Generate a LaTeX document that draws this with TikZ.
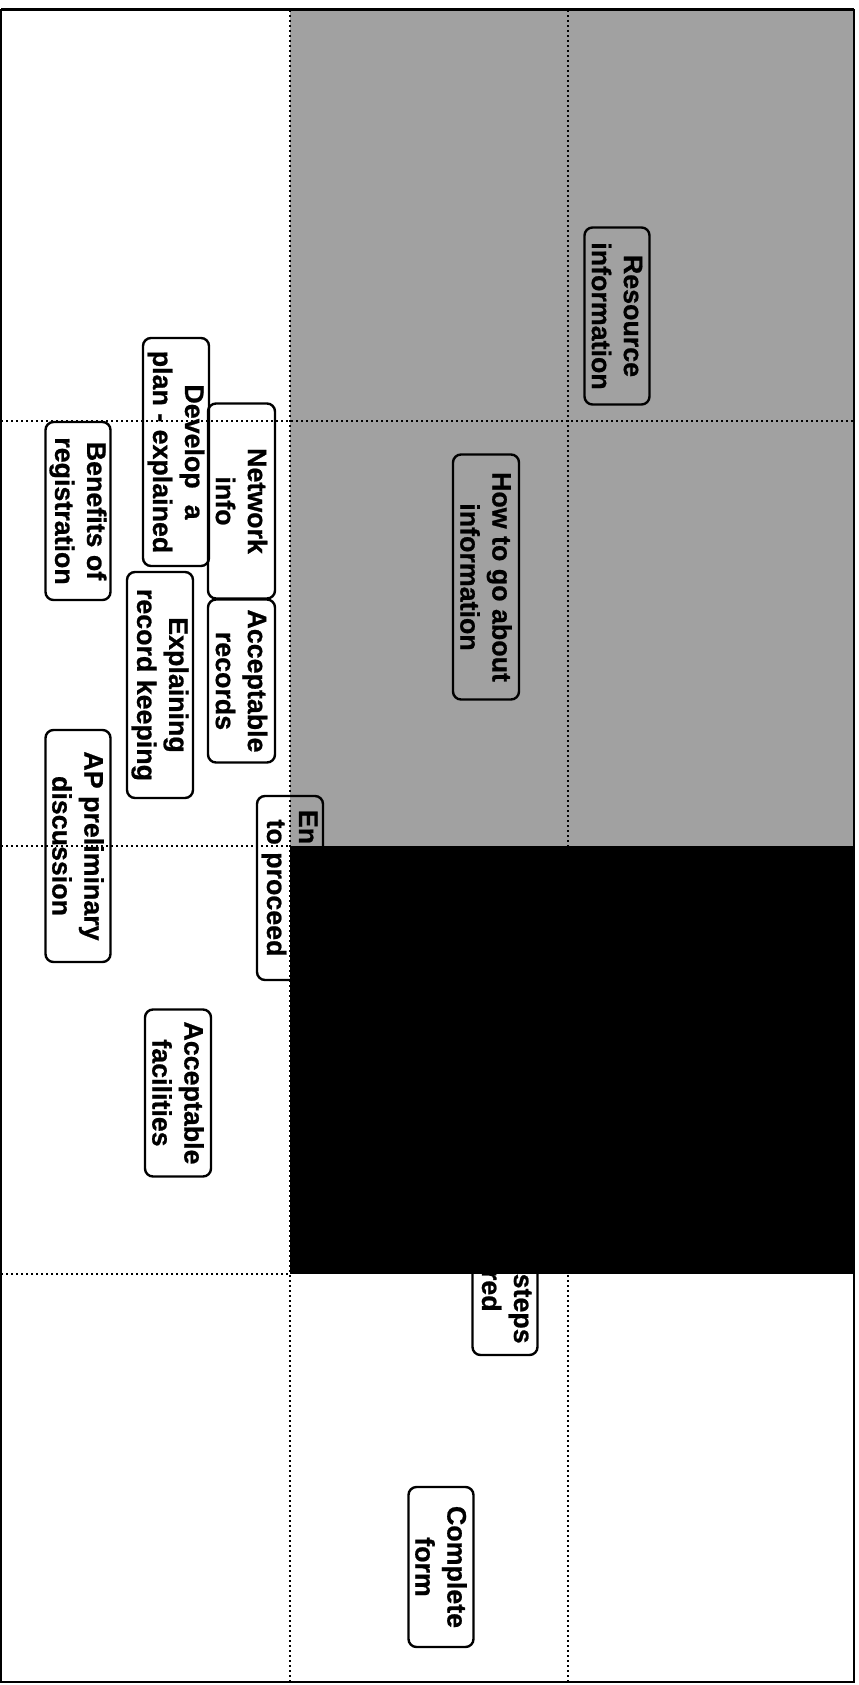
\documentclass[tikz,border=0pt]{standalone}
\usepackage{fontspec}
\setmainfont{Liberation Sans}[BoldFeatures={FakeBold=0.8}]
\begin{document}
\begin{tikzpicture}[x=0.5pt,y=-0.5pt,
  card/.style={draw, line width=1.2pt, rounded corners=4pt, rotate=-90, align=center,
    inner sep=0pt, font=\fontsize{13.4}{16}\selectfont\bfseries},
  gridline/.style={line width=1pt, dash pattern=on 1pt off 1.5pt},
  noisy/.style={fill=black!37},
  blackout/.style={fill=black}]
\useasboundingbox (0,0) rectangle (858,1685);
% grey (noisy) area
\fill[noisy] (290,10) rectangle (854,846);
% grid
\draw[gridline] (1,421) -- (854,421);
\draw[gridline] (1,846) -- (290,846);
\draw[gridline] (1,1274) -- (290,1274);
\draw[gridline] (290,10) -- (290,1682);
\draw[gridline] (568,10) -- (568,1682);
% cards
\node[card, minimum width=177pt*0.5, minimum height=65pt*0.5] (res) at (617,316) {Resource\\information};
\node[card, minimum width=245pt*0.5, minimum height=66pt*0.5] (how) at (486,577) {How to go about\\information};
\node[card, minimum width=195pt*0.5, minimum height=67pt*0.5] (net) at (241.5,501) {Network\\info};
\node[card, minimum width=163pt*0.5, minimum height=67pt*0.5] (accrec) at (241.5,681) {Acceptable\\records};
\node[card, minimum width=228pt*0.5, minimum height=66pt*0.5] (dev) at (176,452) {Develop\hskip8pt a\\plan - explained};
\node[card, minimum width=178pt*0.5, minimum height=65pt*0.5] (ben) at (78,511) {Benefits of\\registration};
\node[card, minimum width=226pt*0.5, minimum height=66pt*0.5] (expl) at (160,685) {Explaining\\record keeping};
\node[card, minimum width=232pt*0.5, minimum height=65pt*0.5] (ap) at (78,846) {AP preliminary\\discussion};
\node[card, minimum width=184pt*0.5, minimum height=66pt*0.5] (en) at (290,888) {En\phantom{ough info}\\to proceed};
\node[card, minimum width=194pt*0.5, minimum height=65pt*0.5] (steps) at (505,1258) {\phantom{Further }steps\\\phantom{requi}red};
\node[card, minimum width=167pt*0.5, minimum height=66pt*0.5] (accfac) at (178,1093) {Acceptable\\facilities};
\node[card, minimum width=160pt*0.5, minimum height=65pt*0.5] (compl) at (441,1567) {Complete\\form};
% black block
\fill[blackout] (290,846) rectangle (854,1274);
% frame
\draw[line width=1pt] (1,10) rectangle (854,1682);
\draw[line width=1.5pt] (1,10) -- (854,10);
\end{tikzpicture}
\end{document}
